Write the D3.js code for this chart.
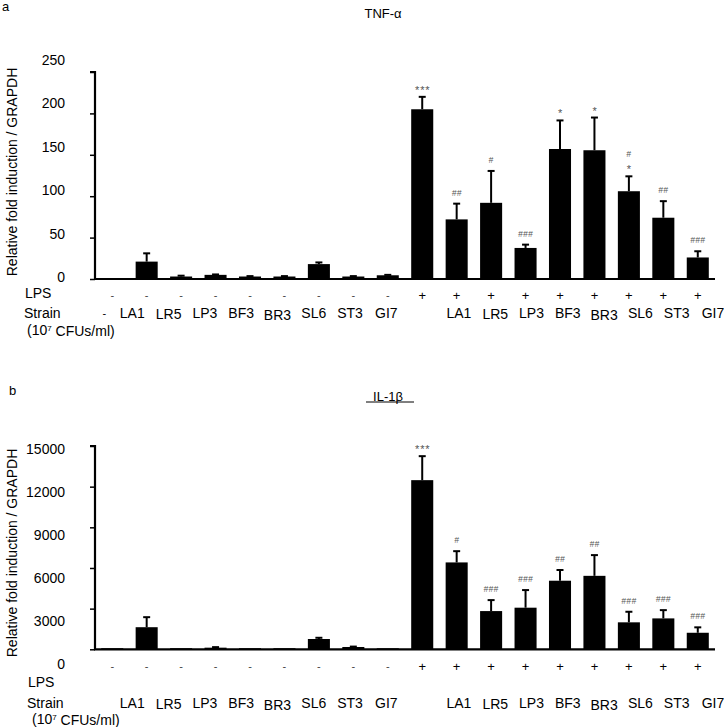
<!DOCTYPE html>
<html>
<head>
<meta charset="utf-8">
<script src="https://cdn.jsdelivr.net/npm/d3@7/dist/d3.min.js"></script>
<style>
  html, body { margin: 0; padding: 0; background: #fff; }
  svg { display: block; font-family: "Liberation Sans", Arial, Helvetica, sans-serif; }
</style>
</head>
<body>
<svg id="chart" width="724" height="727"></svg>
<script>
// ---------- data ----------
const categories = d3.range(18).map(i => "c" + i);
const lpsSigns = ["-","-","-","-","-","-","-","-","-","+","+","+","+","+","+","+","+","+"];
const strainsTop = ["-","LA1","LR5","LP3","BF3","BR3","SL6","ST3","GI7","","LA1","LR5","LP3","BF3","BR3","SL6","ST3","GI7"];
const strainsBottom = ["","LA1","LR5","LP3","BF3","BR3","SL6","ST3","GI7","","LA1","LR5","LP3","BF3","BR3","SL6","ST3","GI7"];

const tnfMean = [1, 21, 3, 5, 3, 3, 18, 3, 4.5, 205, 72, 92, 37.5, 157, 155.5, 106, 74, 26];
const tnfErr  = [0, 10, 1, 0.5, 0.5, 0.5, 2, 0.5, 0.5, 15, 19, 38.5, 4, 34.5, 39.5, 18, 20, 7.5];
const tnfSig  = [[],[],[],[],[],[],[],[],[],["***"],["##"],["#"],["###"],["*"],["*"],["#","*"],["##"],["###"]];
const tnfTicks = [0, 50, 100, 150, 200, 250];

const ilMean = [80, 1630, 80, 120, 80, 80, 760, 170, 75, 12480, 6410, 2820, 3070, 5060, 5420, 1990, 2280, 1220];
const ilErr  = [0, 740, 0, 40, 0, 0, 90, 30, 0, 1770, 830, 810, 1300, 790, 1530, 780, 610, 400];
const ilSig  = [[],[],[],[],[],[],[],[],[],["***"],["#"],["###"],["###"],["##"],["##"],["###"],["###"],["###"]];
const ilTicks = [0, 3000, 6000, 9000, 12000, 15000];

// ---------- drawing ----------
const svg = d3.select("#chart");
const FONT = 14;

function panel(cfg) {
  const g = svg.append("g");
  const x = d3.scaleBand().domain(categories).range([95, 715]).paddingInner(0.36).paddingOuter(0.18);
  const y = d3.scaleLinear().domain([0, cfg.max]).range([cfg.base, cfg.top]);
  // tick labels are set slightly off the tick marks in the original
  const yLab = d3.scaleLinear().domain([0, cfg.max]).range(cfg.labRange);
  const xLab = d3.scaleLinear().domain([0, 17]).range([96, 713]);

  // bars
  g.selectAll("rect.bar").data(cfg.mean).join("rect")
    .attr("x", (d, i) => x(categories[i]))
    .attr("width", x.bandwidth())
    .attr("y", d => y(d))
    .attr("height", d => y(0) - y(d))
    .attr("fill", "#000");

  // error bars (upper only)
  const eg = g.append("g").attr("stroke", "#000").attr("stroke-width", 2);
  cfg.mean.forEach((m, i) => {
    const e = cfg.err[i];
    if (!e) return;
    const cx = x(categories[i]) + x.bandwidth() / 2;
    eg.append("line").attr("x1", cx).attr("x2", cx).attr("y1", y(m)).attr("y2", y(m + e));
    eg.append("line").attr("x1", cx - 3.5).attr("x2", cx + 3.5).attr("y1", y(m + e)).attr("y2", y(m + e));
  });

  // significance marks
  cfg.sig.forEach((arr, i) => {
    const cx = x(categories[i]) + x.bandwidth() / 2;
    const topY = y(cfg.mean[i] + cfg.err[i]);
    arr.slice().reverse().forEach((s, k) => {
      const isStar = s[0] === "*";
      g.append("text")
        .attr("x", cx + (isStar ? 0.5 : 0))
        .attr("y", topY - 8 + (isStar ? 5 : 0) - k * 11)
        .attr("text-anchor", "middle")
        .attr("font-size", isStar ? 11 : 8.5)
        .attr("letter-spacing", isStar ? 0.8 : 0.3)
        .attr("font-style", isStar ? "normal" : "italic")
        .attr("fill", "#555")
        .text(s);
    });
  });

  // y axis
  const ax = g.append("g").attr("transform", "translate(95,0)")
    .call(d3.axisLeft(y).tickValues(cfg.ticks).tickSize(5).tickFormat(""));
  ax.select(".domain").attr("stroke-width", 2.2).attr("d", `M-5,${cfg.top}H0V${cfg.base}`);
  ax.selectAll(".tick line").attr("stroke-width", 1.5);

  g.selectAll("text.ylab").data(cfg.ticks).join("text")
    .attr("x", 65).attr("y", d => yLab(d))
    .attr("dy", "0.35em")
    .attr("text-anchor", "end")
    .attr("font-size", FONT)
    .text(d => d);

  // baseline
  g.append("line").attr("x1", 94).attr("x2", 715)
    .attr("y1", y(0)).attr("y2", y(0))
    .attr("stroke", "#000").attr("stroke-width", 2.2);

  // y title
  g.append("text")
    .attr("transform", `translate(${cfg.titleX},${cfg.titleY}) rotate(-90)`)
    .attr("text-anchor", "middle")
    .attr("dy", "0.35em")
    .attr("font-size", FONT)
    .text("Relative fold induction / GRAPDH");

  // LPS row
  g.selectAll("text.lps").data(lpsSigns).join("text")
    .attr("x", (d, i) => x(categories[i]) + x.bandwidth() / 2)
    .attr("y", cfg.lpsY)
    .attr("dy", "0.35em")
    .attr("text-anchor", "middle")
    .attr("font-size", d => d === "+" ? 13 : 11)
    .attr("fill", d => d === "+" ? "#000" : "#444")
    .text(d => d);

  g.append("text").attr("x", cfg.rowLabX).attr("y", cfg.lpsLabY).attr("dy", "0.35em")
    .attr("font-size", FONT).text("LPS");
  g.append("text").attr("x", cfg.rowLabX - 1).attr("y", cfg.strainY).attr("dy", "0.35em")
    .attr("font-size", FONT).text("Strain");
  const cfu = g.append("text").attr("x", cfg.rowLabX + cfg.cfuDx).attr("y", cfg.cfuY).attr("dy", "0.35em")
    .attr("font-size", FONT);
  cfu.append("tspan").text("(10");
  cfu.append("tspan").attr("font-size", 8).attr("dy", "-0.5em").text("7");
  cfu.append("tspan").attr("dy", "0.35em").text(" CFUs/ml)");

  // strain labels
  const lowered = { "BR3": 2.5, "LR5": 1.5 };
  g.selectAll("text.strain").data(cfg.strains).join("text")
    .attr("x", (d, i) => d === "-" ? x(categories[i]) + x.bandwidth() / 2 - 8 : xLab(i))
    .attr("y", d => cfg.strainY + (lowered[d] || 0))
    .attr("dy", "0.35em")
    .attr("text-anchor", "middle")
    .attr("font-size", d => d === "-" ? 11 : FONT)
    .text(d => d);

  // chart title
  const t = g.append("text").attr("x", cfg.headX).attr("y", cfg.headY).attr("dy", "0.35em")
    .attr("text-anchor", "middle").attr("font-size", 13).text(cfg.head);
  if (cfg.underline) {
    g.append("line").attr("x1", 366).attr("x2", 414).attr("y1", cfg.headY + 6).attr("y2", cfg.headY + 6)
      .attr("stroke", "#000").attr("stroke-width", 1);
  }
  // panel letter
  g.append("text").attr("x", cfg.letterX).attr("y", cfg.letterY).attr("dy", "0.35em")
    .attr("font-size", 13).text(cfg.letter);
}

panel({
  mean: tnfMean, err: tnfErr, sig: tnfSig, ticks: tnfTicks, max: 250,
  top: 72, base: 279, labRange: [277, 60],
  titleX: 12, titleY: 172,
  lpsY: 295, lpsLabY: 293, strainY: 313, cfuY: 330, rowLabX: 25, cfuDx: 2,
  strains: strainsTop,
  head: "TNF-\u03B1", headX: 383, headY: 13, underline: false,
  letter: "a", letterX: 2, letterY: 6
});

panel({
  mean: ilMean, err: ilErr, sig: ilSig, ticks: ilTicks, max: 15000,
  top: 446, base: 649.3, labRange: [664, 449],
  titleX: 12, titleY: 553,
  lpsY: 666, lpsLabY: 682, strainY: 703, cfuY: 719, rowLabX: 28, cfuDx: 4,
  strains: strainsBottom,
  head: "IL-1\u03B2", headX: 388, headY: 396, underline: true,
  letter: "b", letterX: 9, letterY: 390
});
</script>
</body>
</html>
